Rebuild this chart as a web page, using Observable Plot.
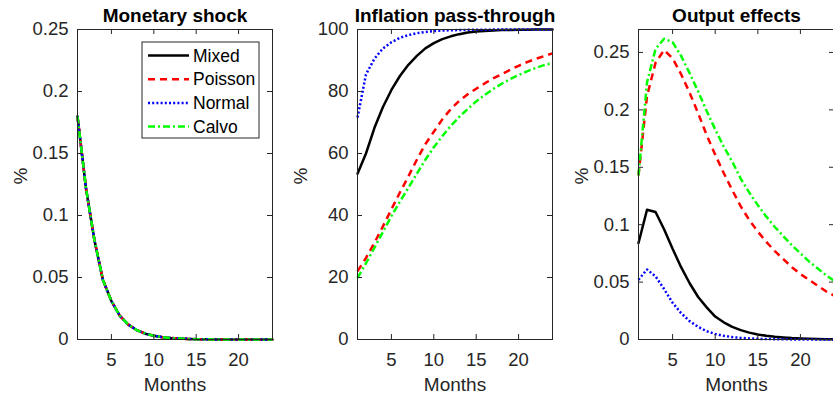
<!DOCTYPE html>
<html><head><meta charset="utf-8">
<script src="https://cdn.jsdelivr.net/npm/d3@7"></script>
<script src="https://cdn.jsdelivr.net/npm/@observablehq/plot@0.6"></script>
<style>
html,body{margin:0;padding:0;background:#fff;}
#wrap{position:relative;width:833px;height:396px;overflow:hidden;font-family:"Liberation Sans",Arial,Helvetica,sans-serif;}
.panel{position:absolute;top:0;}
</style></head><body><div id="wrap"></div>
<script>
// ---- data ----
const months = [1,2,3,4,5,6,7,8,9,10,11,12,13,14,15,16,17,18,19,20,21,22,23,24];
const seriesNames = ["Mixed","Poisson","Normal","Calvo"];
const seriesColors = ["#000000","#ff0000","#0000ff","#00ff00"];
const seriesDash = [null,"7,5","2,2.2","7,3,2,3"];
const panelTitles = ["Monetary shock","Inflation pass-through","Output effects"];
const xTicks = [5,10,15,20];
const xLabel = "Months";
const yLabel = "%";

// Monetary shock (all four series coincide)
const shockMixed   = [0.180,0.122,0.080,0.048,0.031,0.019,0.012,0.0075,0.0047,0.0030,0.0019,0.0012,0.0008,0.0005,0.0003,0.0002,0.0001,0.0001,0.00005,0.00003,0.00002,0.00001,0,0];
const shockPoisson = [0.180,0.122,0.080,0.048,0.031,0.019,0.012,0.0075,0.0047,0.0030,0.0019,0.0012,0.0008,0.0005,0.0003,0.0002,0.0001,0.0001,0.00005,0.00003,0.00002,0.00001,0,0];
const shockNormal  = [0.180,0.122,0.080,0.048,0.031,0.019,0.012,0.0075,0.0047,0.0030,0.0019,0.0012,0.0008,0.0005,0.0003,0.0002,0.0001,0.0001,0.00005,0.00003,0.00002,0.00001,0,0];
const shockCalvo   = [0.180,0.122,0.080,0.048,0.031,0.019,0.012,0.0075,0.0047,0.0030,0.0019,0.0012,0.0008,0.0005,0.0003,0.0002,0.0001,0.0001,0.00005,0.00003,0.00002,0.00001,0,0];

// Inflation pass-through
const inflMixed   = [53.5,60.0,68.3,75.0,80.5,85.0,88.6,91.5,93.9,95.6,96.9,97.8,98.5,99.0,99.35,99.55,99.7,99.8,99.87,99.92,99.95,99.97,99.98,99.99];
const inflPoisson = [22.0,26.3,31.2,36.5,42.0,47.4,52.6,58.0,63.0,67.0,71.0,74.3,77.0,79.1,80.9,82.6,84.2,85.6,87.0,88.3,89.5,90.5,91.4,92.3];
const inflNormal  = [71.6,85.5,90.6,93.9,95.9,97.3,98.2,98.8,99.2,99.5,99.65,99.75,99.83,99.88,99.92,99.95,99.96,99.97,99.98,99.99,99.99,100,100,100];
const inflCalvo   = [19.9,24.6,29.6,34.7,39.8,44.5,48.9,53.5,58.0,62.0,65.6,68.9,71.8,74.4,76.8,78.9,80.8,82.5,84.0,85.3,86.5,87.6,88.5,89.2];

// Output effects
const outMixed   = [0.084,0.113,0.111,0.096,0.079,0.063,0.049,0.037,0.028,0.020,0.015,0.011,0.0082,0.0060,0.0044,0.0032,0.0023,0.0017,0.0012,0.0009,0.0006,0.0004,0.0003,0.0002];
const outPoisson = [0.143,0.212,0.241,0.252,0.245,0.231,0.215,0.197,0.178,0.161,0.145,0.130,0.116,0.104,0.094,0.085,0.077,0.070,0.063,0.057,0.052,0.047,0.042,0.038];
const outNormal  = [0.052,0.061,0.055,0.044,0.032,0.023,0.016,0.011,0.0072,0.0048,0.0032,0.0021,0.0014,0.0009,0.0006,0.0004,0.0003,0.0002,0.0001,0.0001,0.00005,0.00003,0.00002,0.00001];
const outCalvo   = [0.143,0.224,0.253,0.262,0.259,0.247,0.232,0.216,0.199,0.183,0.168,0.155,0.140,0.128,0.117,0.107,0.098,0.090,0.082,0.075,0.068,0.062,0.056,0.051];

const yTicks1 = [0,0.05,0.1,0.15,0.2,0.25];
const yTickLabels1 = ["0","0.05","0.1","0.15","0.2","0.25"];
const yTicks2 = [0,20,40,60,80,100];
const yTickLabels2 = ["0","20","40","60","80","100"];
const yTicks3 = [0,0.05,0.1,0.15,0.2,0.25];
const yTickLabels3 = ["0","0.05","0.1","0.15","0.2","0.25"];

// ---- layout ----
const H = 396, MT = 29, MB = 57;
const FH = H - MT - MB;
const AX = "#262626";
const FONT = '"Liberation Sans", Arial, Helvetica, sans-serif';
const wrap = document.getElementById("wrap");

function panel({left, width, ml, mr, title, yDomain, yTicks, yTickLabels, series}) {
  const FW = width - ml - mr;
  const marks = [];
  series.forEach((vals, i) => {
    const rows = months.map((m, j) => ({month: m, value: vals[j]}));
    const opts = {x: "month", y: "value", stroke: seriesColors[i], strokeWidth: 2.5,
      strokeLinecap: seriesDash[i] ? "butt" : "round", strokeLinejoin: "round"};
    if (seriesDash[i]) opts.strokeDasharray = seriesDash[i];
    marks.push(Plot.line(rows, opts));
  });
  marks.push(Plot.frame({stroke: AX, strokeWidth: 1}));
  marks.push(Plot.ruleX(xTicks, {x: d => d, insetTop: FH - 5, stroke: AX}));
  marks.push(Plot.ruleX(xTicks, {x: d => d, insetBottom: FH - 5, stroke: AX}));
  marks.push(Plot.ruleY(yTicks, {y: d => d, insetRight: FW - 5, stroke: AX}));
  marks.push(Plot.ruleY(yTicks, {y: d => d, insetLeft: FW - 5, stroke: AX}));
  marks.push(Plot.axisX(xTicks, {tickSize: 0, tickPadding: 13, fontSize: 18.5, label: null, fill: AX}));
  marks.push(Plot.axisY(yTicks, {tickSize: 0, tickPadding: 9, fontSize: 18.5, label: null, fill: AX,
    tickFormat: d => yTickLabels[yTicks.indexOf(d)]}));
  marks.push(Plot.text([title], {text: d => d, frameAnchor: "top", dy: -8, lineAnchor: "bottom",
    fontSize: 19, fontWeight: "bold", fill: "#000"}));
  marks.push(Plot.text([yLabel], {text: d => d, frameAnchor: "left", dx: -57, rotate: -90,
    fontSize: 19, fill: AX}));
  marks.push(Plot.text([xLabel], {text: d => d, frameAnchor: "bottom", dy: 38, lineAnchor: "top",
    fontSize: 19, fill: AX}));
  const p = Plot.plot({
    width, height: H,
    marginLeft: ml, marginRight: mr, marginTop: MT, marginBottom: MB,
    style: {fontFamily: FONT, background: "transparent", overflow: "visible"},
    x: {domain: [1, 24]},
    y: {domain: yDomain},
    marks
  });
  p.classList.add("panel");
  p.style.left = left + "px";
  wrap.appendChild(p);
}

panel({left: 0, width: 280, ml: 77, mr: 8, title: panelTitles[0], yDomain: [0, 0.25],
  yTicks: yTicks1, yTickLabels: yTickLabels1, series: [shockMixed, shockPoisson, shockNormal, shockCalvo]});
panel({left: 280, width: 280, ml: 77, mr: 8, title: panelTitles[1], yDomain: [0, 100],
  yTicks: yTicks2, yTickLabels: yTickLabels2, series: [inflMixed, inflPoisson, inflNormal, inflCalvo]});
panel({left: 560, width: 280, ml: 78, mr: 6, title: panelTitles[2], yDomain: [0, 0.27],
  yTicks: yTicks3, yTickLabels: yTickLabels3, series: [outMixed, outPoisson, outNormal, outCalvo]});

// ---- legend (overlay on first panel) ----
const lg = d3.select(wrap).append("svg")
  .attr("width", 833).attr("height", H)
  .style("position", "absolute").style("left", "0px").style("top", "0px")
  .style("pointer-events", "none");
lg.append("rect").attr("x", 142).attr("y", 42).attr("width", 117).attr("height", 96)
  .attr("fill", "#fff").attr("stroke", AX).attr("stroke-width", 1);
seriesNames.forEach((name, i) => {
  const y = 55.5 + i * 23.7;
  const ln = lg.append("line").attr("x1", 148).attr("x2", 189).attr("y1", y).attr("y2", y)
    .attr("stroke", seriesColors[i]).attr("stroke-width", 2.5);
  if (seriesDash[i]) ln.attr("stroke-dasharray", seriesDash[i]);
  lg.append("text").attr("x", 193).attr("y", y).attr("dy", "0.35em")
    .attr("font-size", 17.5).attr("fill", "#000")
    .attr("font-family", FONT)
    .text(name);
});
</script></body></html>
